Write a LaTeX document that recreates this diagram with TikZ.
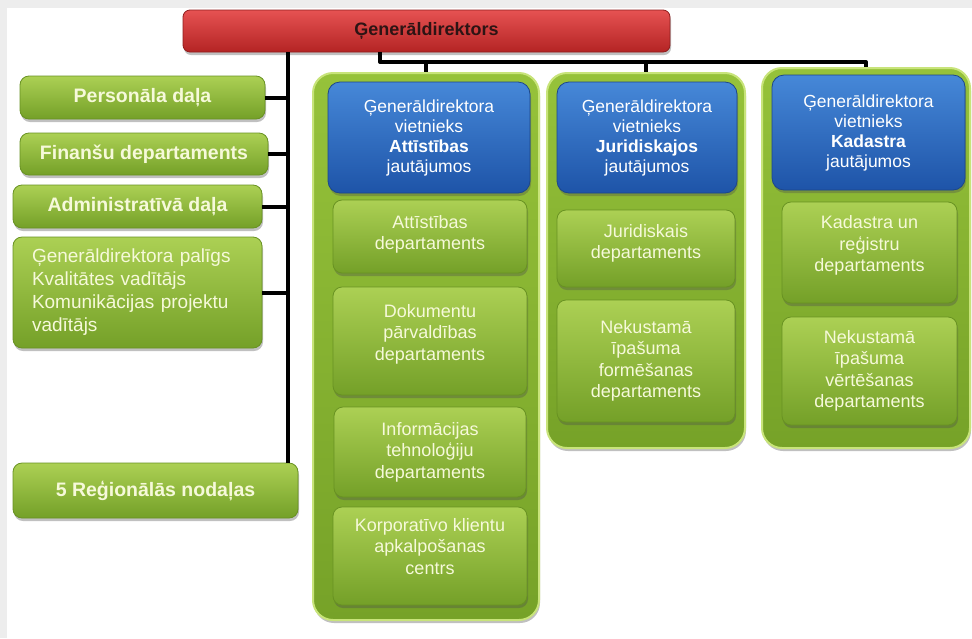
\documentclass[tikz,border=0pt]{standalone}
\usepackage{fontspec}
\setmainfont{Liberation Sans}
\usetikzlibrary{shadows}
\definecolor{gtop}{RGB}{172,208,84}
\definecolor{gbot}{RGB}{116,160,40}
\definecolor{gedge}{RGB}{104,146,34}
\definecolor{ctop}{RGB}{150,194,58}
\definecolor{cbot}{RGB}{118,162,40}
\definecolor{cedge}{RGB}{200,228,122}
\definecolor{btop}{RGB}{70,136,216}
\definecolor{bbot}{RGB}{30,84,168}
\definecolor{bedge}{RGB}{28,70,140}
\definecolor{rtop}{RGB}{230,82,82}
\definecolor{rbot}{RGB}{180,36,36}
\definecolor{cream}{RGB}{246,249,218}
\definecolor{darktxt}{RGB}{45,20,20}
\newcommand\lowstrut[1]{\rule[-#1]{0pt}{#1}}
\begin{document}
\begin{tikzpicture}[x=1pt,y=-1pt,
  shad/.style={drop shadow={shadow xshift=1pt,shadow yshift=-3pt,opacity=0.35,fill=black!70}},
  greenbox/.style={shad,rounded corners=9pt,top color=gtop,bottom color=gbot,draw=gedge,line width=0.8pt,
    text=cream,inner sep=2pt,align=center,font=\fontsize{18}{21.5}\selectfont},
  leftbold/.style={greenbox,font=\fontsize{19.5}{22}\selectfont\bfseries},
  bluebox/.style={shad,rounded corners=12pt,top color=btop,bottom color=bbot,draw=bedge,line width=0.8pt,
    text=white,inner sep=2pt,align=center,font=\fontsize{17.5}{20}\selectfont},
  redbox/.style={shad,rounded corners=7pt,top color=rtop,bottom color=rbot,draw=rbot!80!black,line width=0.8pt,
    text=darktxt,font=\fontsize{18}{20}\selectfont\bfseries},
  column/.style={shad,rounded corners=20pt,top color=ctop,bottom color=cbot,draw=cedge,line width=2pt},
  conn/.style={line width=4pt,black}]
\useasboundingbox (0,0) rectangle (972,638);
\fill[black!7] (0,0) rectangle (972,638);
\fill[white] (7,8) rectangle (972,638);

% head
\node[redbox,minimum width=487pt,minimum height=42pt] (red) at (426.5,31) {Ģenerāldirektors};

% left column
\node[leftbold,minimum width=245pt,minimum height=43pt] (pers) at (142.5,97.5) {Personāla daļa};
\node[leftbold,minimum width=248pt,minimum height=42pt] (fin) at (144,154) {Finanšu departaments};
\node[leftbold,minimum width=249pt,minimum height=43pt] (adm) at (137.5,206.5) {Administratīvā daļa};
\node[greenbox,minimum width=249pt,minimum height=111pt,align=left,text width=211pt,inner xsep=19pt,
  font=\fontsize{19}{23}\selectfont] (pal) at (137.5,292.5)
  {Ģenerāldirektora palīgs\\Kvalitātes vadītājs\\Komunikācijas projektu\\vadītājs};
\node[leftbold,minimum width=285pt,minimum height=55pt] (reg) at (155.5,490.5) {5 Reģionālās nodaļas};

% column containers
\node[column,minimum width=226pt,minimum height=547pt] (c1) at (426,346.5) {};
\node[column,minimum width=198pt,minimum height=375pt] (c2) at (646,260.5) {};
\node[column,minimum width=208pt,minimum height=380pt] (c3) at (866,258) {};

% column 1
\node[bluebox,minimum width=202pt,minimum height=111pt] (b1) at (429,137.5)
  {Ģenerāldirektora\\vietnieks\\\textbf{Attīstības}\\jautājumos};
\node[greenbox,minimum width=194pt,minimum height=73pt] (d11) at (430,236.5) {Attīstības\\departaments\lowstrut{8pt}};
\node[greenbox,minimum width=194pt,minimum height=108pt] (d12) at (430,341) {Dokumentu\\pārvaldības\\departaments\lowstrut{18pt}};
\node[greenbox,minimum width=192pt,minimum height=90pt] (d13) at (430,452) {Informācijas\\tehnoloģiju\\departaments};
\node[greenbox,minimum width=194pt,minimum height=98pt] (d14) at (430,556) {Korporatīvo klientu\\apkalpošanas\\centrs\lowstrut{20pt}};

% column 2
\node[bluebox,minimum width=180pt,minimum height=111pt] (b2) at (647,137.5)
  {Ģenerāldirektora\\vietnieks\\\textbf{Juridiskajos}\\jautājumos};
\node[greenbox,minimum width=178pt,minimum height=77pt] (d21) at (646,248.5) {Juridiskais\\departaments\lowstrut{14pt}};
\node[greenbox,minimum width=178pt,minimum height=122pt] (d22) at (646,361) {Nekustamā\\īpašuma\\formēšanas\\departaments};

% column 3
\node[bluebox,minimum width=193pt,minimum height=115pt] (b3) at (868.5,132.5)
  {Ģenerāldirektora\\vietnieks\\\textbf{Kadastra}\\jautājumos};
\node[greenbox,minimum width=175pt,minimum height=101pt] (d31) at (869.5,252.5) {Kadastra un\\reģistru\\departaments\lowstrut{18pt}};
\node[greenbox,minimum width=175pt,minimum height=108pt] (d32) at (869.5,371) {Nekustamā\\īpašuma\\vērtēšanas\\departaments};

% connectors
\coordinate (tx) at (288,0);
\coordinate (bx) at (380,0);
\coordinate (busy) at (0,62);
\draw[conn] (red.south -| tx) -- (reg.north -| tx);
\draw[conn] (pers.east) -- (pers.east -| tx);
\draw[conn] (fin.east) -- (fin.east -| tx);
\draw[conn] (adm.east) -- (adm.east -| tx);
\draw[conn] (pal.east) -- (pal.east -| tx);
\draw[conn,line join=round] (red.south -| bx) |- (busy -| c3.north) -- (c3.north);
\draw[conn] (busy -| c1.north) -- (c1.north);
\draw[conn] (busy -| c2.north) -- (c2.north);
\end{tikzpicture}
\end{document}
